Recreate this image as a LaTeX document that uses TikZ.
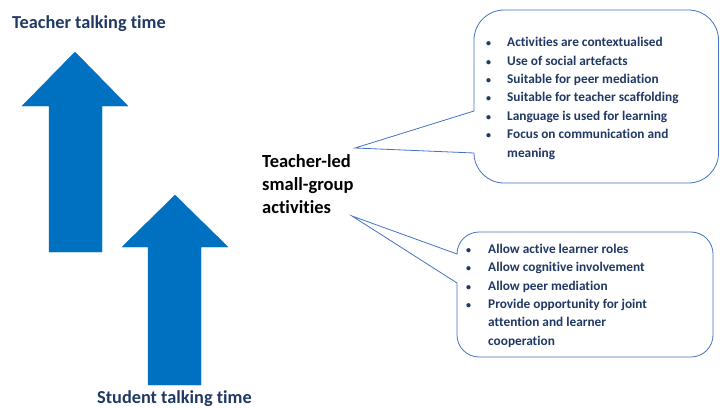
\documentclass[tikz,border=0pt]{standalone}
\usepackage{fontspec}
\setmainfont[Ligatures=NoCommon]{Carlito}
\definecolor{navy}{RGB}{32,56,100}
\definecolor{arrowblue}{RGB}{0,112,192}
\definecolor{calloutblue}{RGB}{68,114,196}
\newcommand{\smbul}{{\fontsize{10}{10}\selectfont\textbullet}}
\begin{document}
\begin{tikzpicture}[x=1pt,y=1pt,
  bigarrow/.style={fill=arrowblue,draw=arrowblue,line width=0.3pt},
  callout/.style={draw=calloutblue,line width=0.8pt,fill=white,line join=miter},
  title/.style={font=\fontsize{18.3}{22}\selectfont\bfseries,text=navy,inner sep=0pt,anchor=base west},
  listtext/.style={font=\fontsize{13.3}{18.4}\selectfont\bfseries,text=navy,inner sep=0pt,anchor=base west}]
\useasboundingbox (0,0) rectangle (720,-407);

% arrows
\draw[bigarrow] (49,-252) -- (49,-106) -- (22,-106) -- (75,-52) -- (128,-106) -- (102,-106) -- (102,-252) -- cycle;
\draw[bigarrow] (148,-385) -- (148,-247) -- (122,-247) -- (175,-195) -- (228,-247) -- (201,-247) -- (201,-385) -- cycle;

\node[title] (ttt) at (12,-28) {Teacher talking time};
\node[title] (stt) at (97,-403) {Student talking time};

\node[font=\fontsize{18.5}{23}\selectfont\bfseries,text=black,inner sep=0pt,anchor=base west,align=left] (center) at (262,-167)
  {\begin{tabular}[t]{@{}l@{}}Teacher-led\\small-group\\activities\end{tabular}};

% callout 1
\coordinate (tip1) at (355,-148);
\coordinate (a1) at (474,-111);
\draw[callout] (tip1) -- (a1) -- (474,-40) arc[start angle=180,end angle=90,radius=30]
  -- (688.5,-10) arc[start angle=90,end angle=0,radius=30]
  -- (718.5,-153) arc[start angle=0,end angle=-90,radius=30]
  -- (504,-183) arc[start angle=270,end angle=180,radius=30] -- cycle;

% callout 2
\coordinate (tip2) at (352,-216);
\coordinate (a2) at (457,-254);
\coordinate (b2) at (457,-283);
\draw[callout] (tip2) -- (a2) arc[start angle=180,end angle=90,radius=22]
  -- (691,-232) arc[start angle=90,end angle=0,radius=22]
  -- (713,-335) arc[start angle=0,end angle=-90,radius=22]
  -- (479,-357) arc[start angle=270,end angle=180,radius=22]
  -- (b2) -- cycle;

\node[listtext] (list1) at (486,-46.7) {\begin{tabular}[t]{@{}p{21pt}@{}l@{}}
\smbul & Activities are contextualised\\
\smbul & Use of social artefacts\\
\smbul & Suitable for peer mediation\\
\smbul & Suitable for teacher scaffolding\\
\smbul & Language is used for learning\\
\smbul & Focus on communication and\\
 & meaning
\end{tabular}};

\node[listtext] (list2) at (466,-253.3) {\begin{tabular}[t]{@{}p{22pt}@{}l@{}}
\smbul & Allow active learner roles\\
\smbul & Allow cognitive involvement\\
\smbul & Allow peer mediation\\
\smbul & Provide opportunity for joint\\
 & attention and learner\\
 & cooperation
\end{tabular}};
\end{tikzpicture}
\end{document}
